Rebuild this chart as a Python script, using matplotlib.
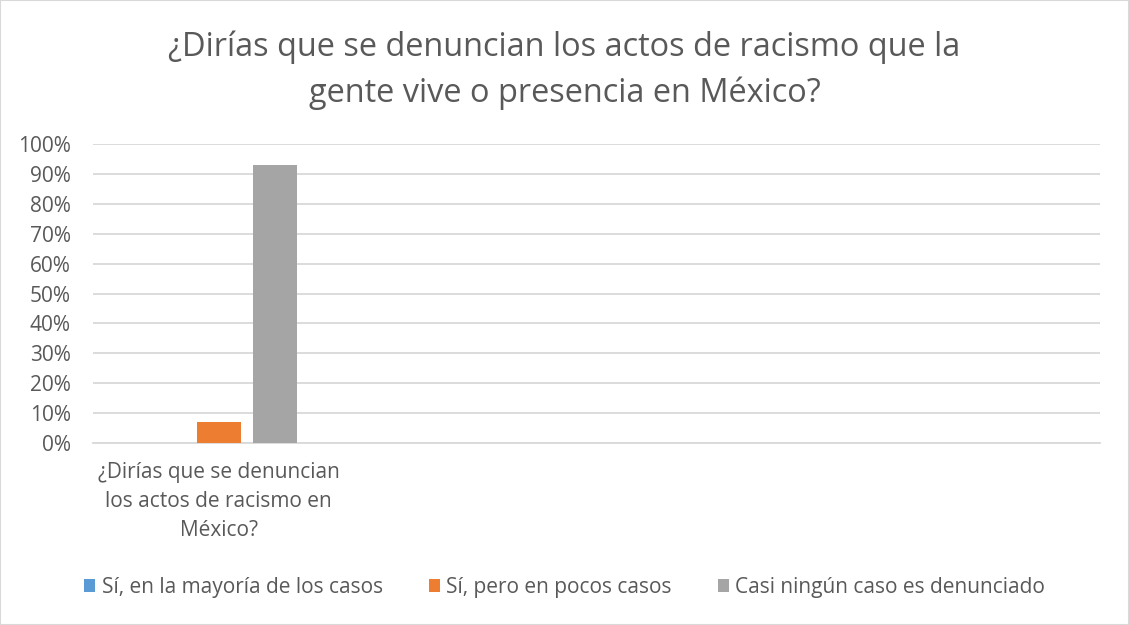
import numpy as np
import matplotlib
matplotlib.use("Agg")
import matplotlib.pyplot as plt
from matplotlib.patches import Rectangle

categories = ["¿Dirías que se denuncian\nlos actos de racismo en\nMéxico?", "", "", ""]
series_names = ["Sí, en la mayoría de los casos", "Sí, pero en pocos casos",
                "Casi ningún caso es denunciado"]
series_values = [
    [0, None, None, None],
    [7, None, None, None],
    [93, None, None, None],
]
colors = ["#5b9bd5", "#ed7d31", "#a5a5a5"]
title = "¿Dirías que se denuncian los actos de racismo que la\ngente vive o presencia en México?"

plt.rcParams["font.family"] = ["Open Sans", "DejaVu Sans"]
text_color = "#595959"
grid_color = "#d9d9d9"

fig = plt.figure(figsize=(11.29, 6.25), dpi=100)
ax = fig.add_axes([0.0824, 0.2912, 0.974 - 0.0824, 0.7696 - 0.2912])

x = np.arange(len(categories))
width = 0.175
step = 0.222
for i, (name, vals) in enumerate(zip(series_names, series_values)):
    v = [np.nan if a is None else a for a in vals]
    ax.bar(x + (i - 1) * step, v, width, color=colors[i], label=name, zorder=3)

ax.set_xlim(-0.5, len(categories) - 0.5)
ax.set_ylim(0, 100)
ax.set_yticks(np.arange(0, 101, 10))
ax.set_yticklabels([f"{t}%" for t in range(0, 101, 10)], fontsize=15, color=text_color)
ax.set_xticks(x)
ax.set_xticklabels(categories, fontsize=15, color=text_color, linespacing=1.5)
ax.tick_params(axis="both", length=0)
ax.tick_params(axis="x", pad=14)
ax.tick_params(axis="y", pad=16)
ax.grid(axis="y", color=grid_color, linewidth=1.3, zorder=0)
for s in ["top", "right", "left"]:
    ax.spines[s].set_visible(False)
ax.spines["bottom"].set_color(grid_color)
ax.spines["bottom"].set_linewidth(1.3)

fig.text(0.5, 0.952, title, ha="center", va="top", fontsize=23.4, color=text_color,
         linespacing=1.5)

fig.legend(loc="center", bbox_to_anchor=(0.5, 0.06), ncol=3, frameon=False,
           fontsize=15, labelcolor=text_color, handlelength=0.55, handleheight=0.55,
           handletextpad=0.3, columnspacing=2.2)

fig.patches.append(Rectangle((0, 0), 1, 1, transform=fig.transFigure, fill=False,
                             edgecolor=grid_color, linewidth=1.5))

fig.savefig("out.png", dpi=100)
